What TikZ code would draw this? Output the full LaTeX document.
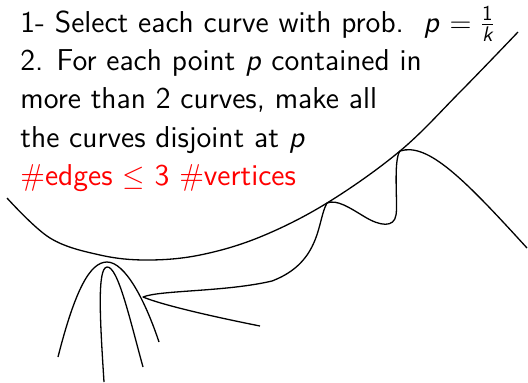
\documentclass[tikz,border=0pt]{standalone}
\usepackage{amsmath}
\begin{document}
\begin{tikzpicture}[x=0.5pt,y=-0.5pt,
  curve/.style={line width=0.65pt, line join=round},
  txt/.style={anchor=base west, inner sep=0pt, font=\sffamily\fontsize{15.1}{19}\selectfont}]
\useasboundingbox (0,0) rectangle (528,382);
% text
\node[txt] (l1) at (20,32) {1- Select each curve with prob.\ \ \textsl{p} $=\frac{\text{\sffamily 1}}{\text{\sffamily\slshape k}}$};
\node[txt] (l2) at (20,70) {2. For each point \textsl{p} contained in};
\node[txt] (l3) at (20,108.5) {more than 2 curves, make all};
\node[txt] (l4) at (20,147) {the curves disjoint at \textsl{p}};
\node[txt, text=red] (l5) at (20,185) {\#edges $\leq$ 3 \#vertices};
% key points
\coordinate (k1) at (400,151);
\coordinate (k2) at (327,203);
\coordinate (k3) at (143,297);
% big arc
\draw[curve] plot[smooth, tension=0.6] coordinates {(7,198) (50,238) (100,255) (147,260) (200,255) (260,237) (k2) (k1) (460,92) (518,32)};
% curve through kinks
\draw[curve] (527,248) .. controls (465,180) and (428,142) .. (k1)
  .. controls (393,160) and (398,205) .. (396,215)
  .. controls (394,228) and (380,226) .. (365,217)
  .. controls (350,208) and (337,199) .. (k2)
  .. controls (317,220) and (322,262) .. (272,281)
  .. controls (225,292) and (160,290) .. (k3)
  .. controls (165,306) and (220,318) .. (260,326);
% outer parabola
\draw[curve] (58,357) .. controls (75,290) and (90,262) .. (107,262)
  .. controls (125,262) and (145,300) .. (159,342);
% inner curve
\draw[curve] (104,382) .. controls (100,320) and (97,268) .. (107,267)
  .. controls (118,266) and (130,320) .. (143,367);
\end{tikzpicture}
\end{document}
